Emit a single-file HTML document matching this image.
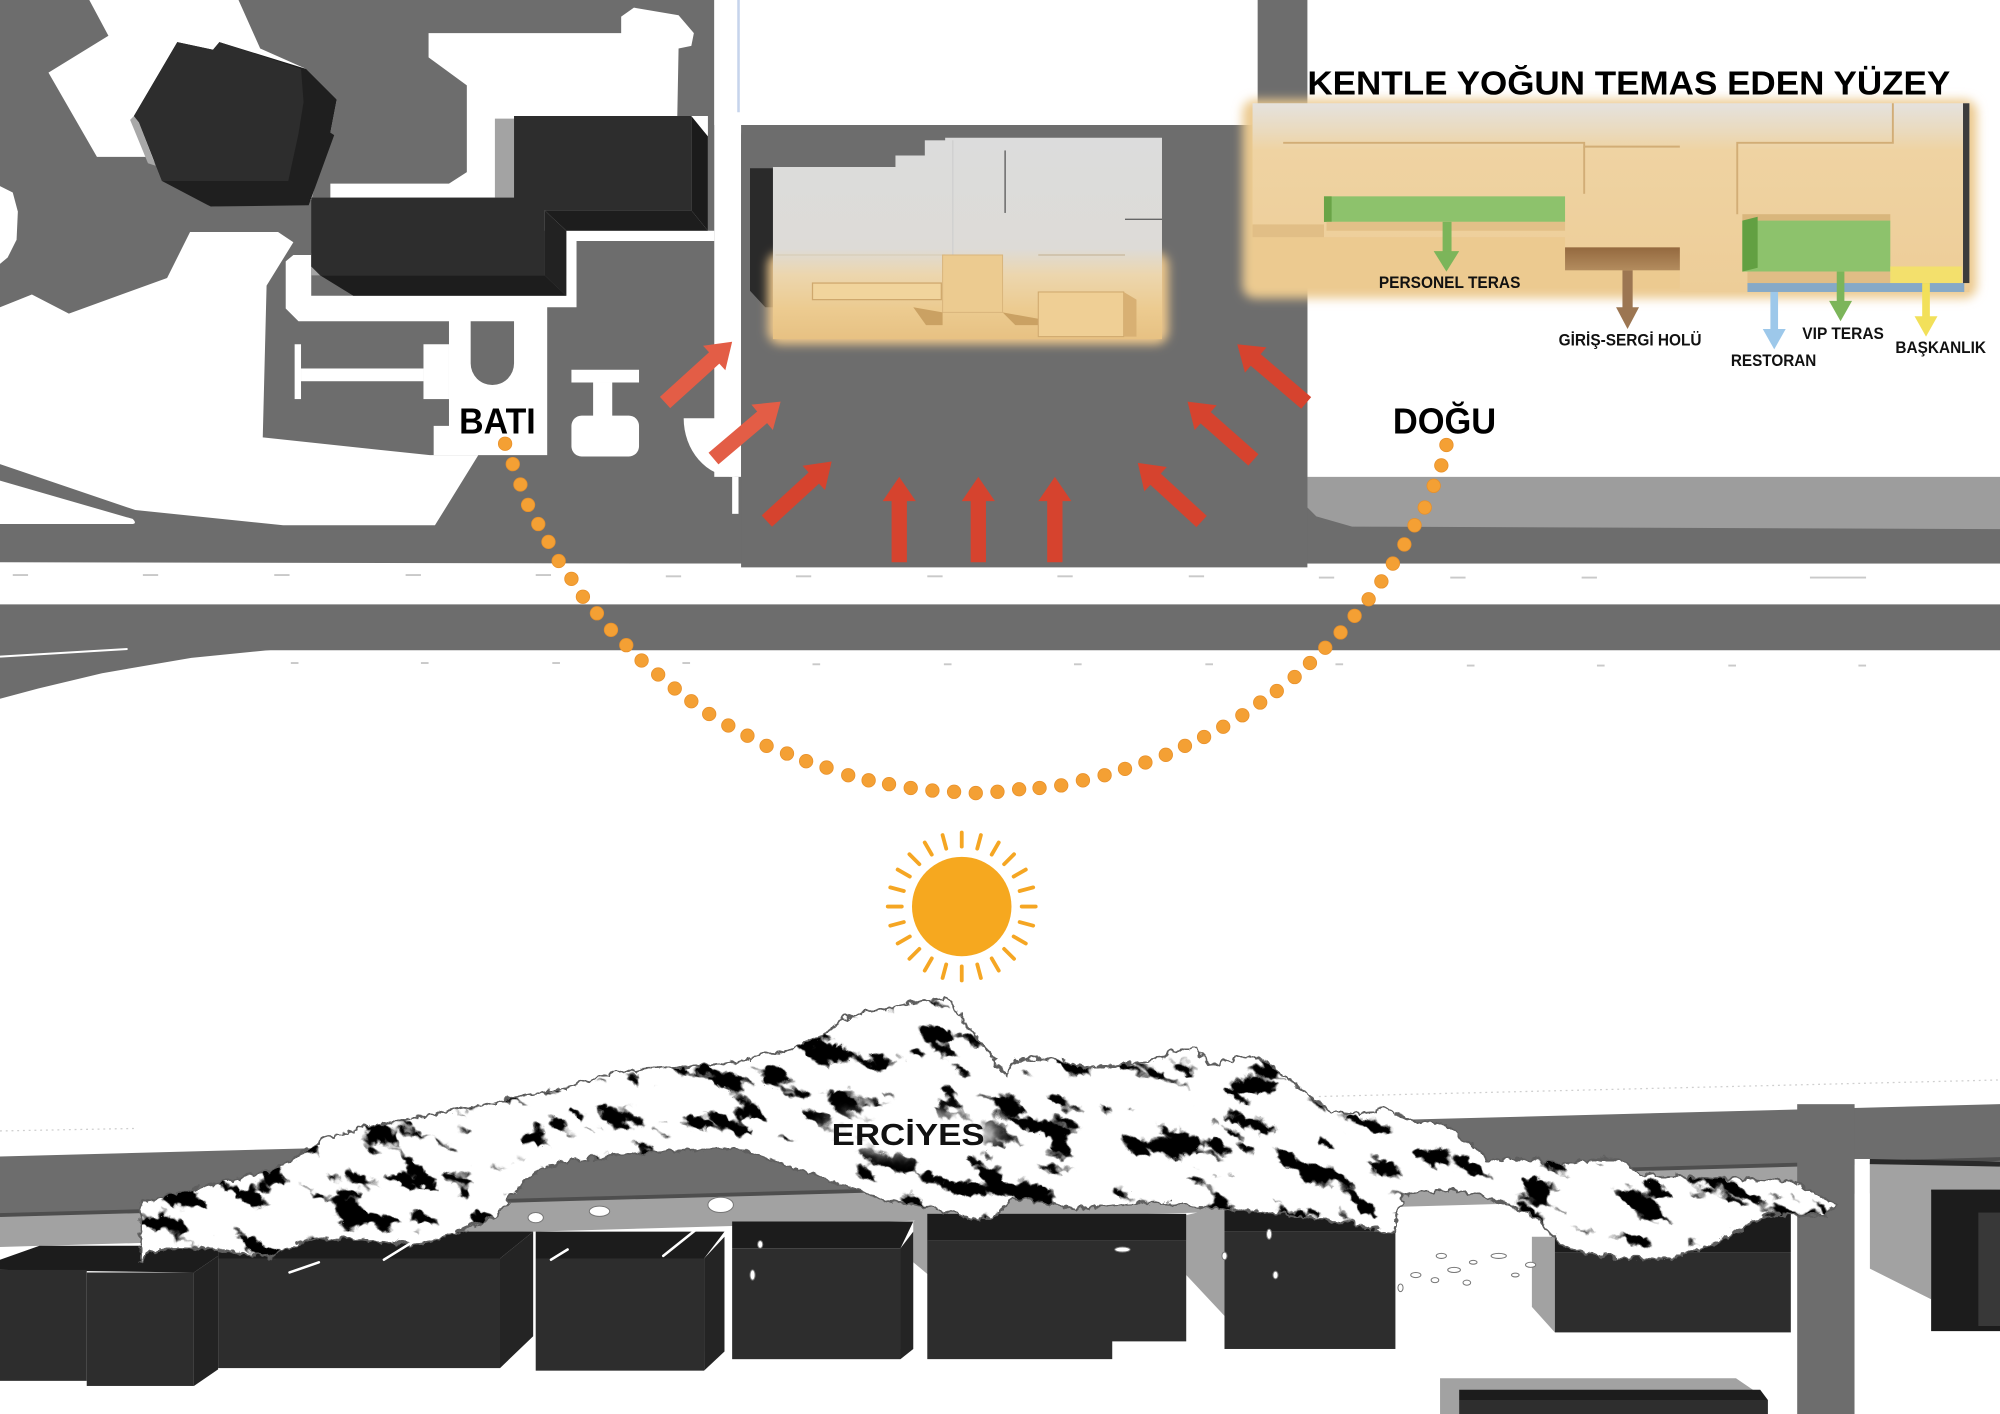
<!DOCTYPE html>
<html><head><meta charset="utf-8">
<style>html,body{margin:0;padding:0;background:#fff;width:2000px;height:1414px;overflow:hidden;}svg{display:block;}</style>
</head>
<body>
<svg xmlns="http://www.w3.org/2000/svg" width="2000" height="1414" viewBox="0 0 1568 1109" preserveAspectRatio="none" font-family="'Liberation Sans', 'DejaVu Sans', sans-serif">
<defs>
  <filter id="b4" x="-20%" y="-40%" width="140%" height="180%"><feGaussianBlur stdDeviation="4"/></filter>
  <filter id="b6" x="-30%" y="-80%" width="160%" height="260%"><feGaussianBlur stdDeviation="6"/></filter>
  <filter id="nz" x="0" y="0" width="1" height="1" color-interpolation-filters="sRGB">
    <feTurbulence type="fractalNoise" baseFrequency="0.025 0.055" numOctaves="3" seed="11"/>
    <feColorMatrix type="matrix" values="0 0 0 0 0  0 0 0 0 0  0 0 0 0 0  -16 0 0 0 6.75"/>
  </filter>
  <filter id="rough" x="-5%" y="-20%" width="110%" height="140%" color-interpolation-filters="sRGB">
    <feTurbulence type="turbulence" baseFrequency="0.09" numOctaves="2" seed="4" result="t"/>
    <feDisplacementMap in="SourceGraphic" in2="t" scale="7" xChannelSelector="R" yChannelSelector="G"/>
  </filter>
  <pattern id="np" patternUnits="userSpaceOnUse" x="0" y="0" width="2400" height="1400" patternTransform="rotate(25 770 900)">
    <rect x="0" y="0" width="2400" height="1400" filter="url(#nz)"/>
  </pattern>
  <linearGradient id="gBld" gradientUnits="userSpaceOnUse" x1="0" y1="108" x2="0" y2="266">
    <stop offset="0" stop-color="#dcdcdc"/><stop offset="0.55" stop-color="#dddbd7"/>
    <stop offset="0.68" stop-color="#ecd6ae"/><stop offset="0.85" stop-color="#eccb90"/>
    <stop offset="1" stop-color="#e7c183"/>
  </linearGradient>
  <linearGradient id="gK" gradientUnits="userSpaceOnUse" x1="0" y1="81" x2="0" y2="229">
    <stop offset="0" stop-color="#e5e2de"/><stop offset="0.15" stop-color="#eadabd"/>
    <stop offset="0.25" stop-color="#efd3a2"/><stop offset="1" stop-color="#edcd98"/>
  </linearGradient>
  <linearGradient id="gBr" x1="0" y1="0" x2="0" y2="1">
    <stop offset="0" stop-color="#94693f"/><stop offset="1" stop-color="#b38c5e"/>
  </linearGradient>
  <clipPath id="mc"><path id="mpath" d="M108,988 L108,941 L140,933 L175,925 L215,915 L235,902 L255,891 L288,881 L320,875 L350,870 L400,860 L450,849 L480,839 L525,836 L575,831 L615,821 L640,812 L655,800 L675,792 L690,790 L705,786 L720,783 L740,781 L748,788 L754,800 L767,815 L774,826 L787,841 L796,830 L816,828 L835,831 L848,835 L868,834 L894,831 L913,826 L926,820 L936,820 L946,834 L965,830 L979,826 L991,831 L1008,844 L1024,857 L1040,870 L1057,872 L1084,868 L1109,878 L1129,878 L1150,895 L1164,909 L1184,907 L1224,911 L1254,907 L1269,907 L1284,920 L1334,922 L1404,925 L1439,943 L1429,951 L1384,951 L1364,962 L1334,977 L1309,985 L1259,985 L1224,977 L1205,955 L1180,942 L1140,932 L1100,935 L1090,966 L1060,958 L1009,951 L959,946 L899,941 L840,946 L792,938 L772,956 L728,946 L688,938 L576,898 L520,901 L444,909 L420,915 L400,935 L390,951 L350,967 L320,975 L280,970 L240,970 L210,985 L165,977 L125,977 Z"/></clipPath>
</defs>

<rect x="0" y="0" width="1568" height="1109" fill="#fff"/>

<!-- ===== TOP AREA ===== -->
<rect x="0" y="0" width="1568" height="442" fill="#6d6d6d"/>
<g fill="#fff">
  <polygon points="70,0 187,0 204,38 240,54 264,78 259,104 244,157 165,162 127,139 119,123 76,123 38,57 85,28"/>
  <polygon points="0,146 10,151 14,166 13,188 6,202 0,207"/>
  <polygon points="0,241 25,231 54,246 131,218 149,182 218,182 230,190 209,224 206,343 337,357 375,357 341,412 222,412 106,400 0,364"/>
  <path d="M0,377 L104,407 Q108,411 103,411 L0,411 Z"/>
  <polygon points="259,144 352,144 366,135 366,67 336,45 336,26 487,26 487,13 497,6 532,12 544,26 542,36 532,38 531,91 555,91 555,181 403,181 403,155 259,155"/>
  <polygon points="224,205 230,200 244,200 244,232 444,232 444,181 560,181 560,189 452,189 452,241 429,241 429,357 340,357 340,334 352,334 352,252 234,252 224,242"/>
  <rect x="560" y="0" width="21" height="374"/>
  <rect x="574" y="374" width="5" height="29"/>
  <path d="M576,328 L536,328 A40,46 0 0 0 576,374 Z"/>
  <path d="M560,0 H986 V92 A6,6 0 0 1 980,98 H560 Z"/>
  <rect x="1025" y="0" width="543" height="375"/>
</g>
<line x1="579" y1="0" x2="579" y2="88" stroke="#c6d4ec" stroke-width="2"/>
<polygon points="1025,374 1568,374 1568,415 1060,413 1032,405 1025,398" fill="#9d9d9d"/>
<path d="M369,252 V285 A17,17 0 0 0 403,285 V252 Z" fill="#6d6d6d"/>
<g fill="#fff">
  <rect x="231" y="270" width="5" height="43"/>
  <rect x="236" y="289" width="96" height="10"/>
  <rect x="332" y="270" width="20" height="43"/>
  <rect x="448" y="290" width="53" height="10"/>
  <rect x="465" y="300" width="15" height="28"/>
  <rect x="448" y="326" width="53" height="32" rx="8"/>
</g>
<!-- octagon building -->
<polygon points="105,91 109,96 122,130 116,128 102,94" fill="#a8a8a8"/>
<polygon points="139,33 167,39 172,33 240,54 264,78 259,104 262,106 242,161 165,162 127,142 109,96 105,91" fill="#1f1f1f"/>
<polygon points="139,33 167,39 172,33 236,54 238,80 234,105 226,142 127,142 109,96 105,91" fill="#2d2d2d"/>
<!-- long building -->
<polygon points="388,93 403,93 403,155 388,155" fill="#a3a3a3"/>
<polygon points="244,198 251,216 244,216" fill="#a3a3a3"/>
<polygon points="403,91 542,91 542,165 427,165 427,216 251,216 244,209 244,155 403,155" fill="#2d2d2d"/>
<polygon points="427,165 542,165 555,181 444,181" fill="#1d1d1d"/>
<polygon points="251,216 427,216 444,232 277,232" fill="#1d1d1d"/>
<polygon points="427,165 444,181 444,232 427,216" fill="#222"/>
<polygon points="542,91 555,107 555,181 542,165" fill="#1b1b1b"/>

<!-- road -->
<polygon points="0,441 1568,444 1568,474 0,474" fill="#fff"/>
<polygon points="0,474 1568,474 1568,510 0,510" fill="#6d6d6d"/>
<polygon points="0,509 220,509 150,516 80,528 30,540 0,548" fill="#6d6d6d"/>
<path d="M0,515 Q50,512 100,509" stroke="#fff" stroke-width="1.5" fill="none"/>
<g stroke="#c9c9c9" stroke-width="1.5">
  <line x1="10" y1="451" x2="22" y2="451"/><line x1="112" y1="451" x2="124" y2="451"/>
  <line x1="215" y1="451" x2="227" y2="451"/><line x1="318" y1="451" x2="330" y2="451"/>
  <line x1="420" y1="451" x2="432" y2="451"/><line x1="522" y1="452" x2="534" y2="452"/>
  <line x1="624" y1="452" x2="636" y2="452"/><line x1="727" y1="452" x2="739" y2="452"/>
  <line x1="829" y1="452" x2="841" y2="452"/><line x1="932" y1="452" x2="944" y2="452"/>
  <line x1="1034" y1="453" x2="1046" y2="453"/><line x1="1137" y1="453" x2="1149" y2="453"/>
  <line x1="1240" y1="453" x2="1252" y2="453"/><line x1="1419" y1="453" x2="1463" y2="453"/>
  <line x1="228" y1="520" x2="234" y2="520"/><line x1="330" y1="520" x2="336" y2="520"/>
  <line x1="433" y1="520" x2="439" y2="520"/><line x1="535" y1="520" x2="541" y2="520"/>
  <line x1="637" y1="521" x2="643" y2="521"/><line x1="740" y1="521" x2="746" y2="521"/>
  <line x1="842" y1="521" x2="848" y2="521"/><line x1="945" y1="521" x2="951" y2="521"/>
  <line x1="1047" y1="521" x2="1053" y2="521"/><line x1="1150" y1="522" x2="1156" y2="522"/>
  <line x1="1252" y1="522" x2="1258" y2="522"/><line x1="1355" y1="522" x2="1361" y2="522"/>
  <line x1="1457" y1="522" x2="1463" y2="522"/>
</g>

<!-- central plot -->
<path d="M581,106 A8,8 0 0 1 589,98 H1025 V445 H581 Z" fill="#6d6d6d"/>
<polygon points="588,132 606,132 606,232 612,241 600,241 588,228" fill="#2a2a2a"/>
<polygon points="606,174 619,180 619,191 606,191" fill="#4a4a4a"/>
<rect x="702" y="122" width="23" height="10" fill="#2a2a2a"/>
<rect x="725" y="110" width="16" height="13" fill="#2a2a2a"/>
<rect x="602" y="198" width="314" height="72" rx="10" fill="#f0c98c" filter="url(#b4)"/>
<polygon points="606,131 702,131 702,122 725,122 725,110 741,110 741,108 911,108 911,266 606,266" fill="url(#gBld)"/>
<line x1="747" y1="110" x2="747" y2="200" stroke="#cfcfcf" stroke-width="1"/>
<line x1="788" y1="118" x2="788" y2="167" stroke="#555" stroke-width="1"/>
<line x1="882" y1="172" x2="911" y2="172" stroke="#666" stroke-width="1"/>
<line x1="608" y1="200" x2="741" y2="200" stroke="#d8cdb8" stroke-width="1"/>
<line x1="814" y1="200" x2="882" y2="200" stroke="#c8b89c" stroke-width="1"/>
<rect x="637" y="222" width="101" height="13" fill="#f1d49c" stroke="#cfa86d" stroke-width="1"/>
<rect x="739" y="200" width="47" height="45" fill="#eccb90" stroke="#d9b57c" stroke-width="0.8"/>
<polygon points="716,241 739,245 739,255 726,255" fill="#caa163"/>
<polygon points="786,245 814,250 814,255 796,255" fill="#caa163"/>
<rect x="814" y="229" width="67" height="35" fill="#efcf95" stroke="#cfa86d" stroke-width="0.8"/>
<polygon points="881,229 891,235 891,264 881,264" fill="#d8b073"/>

<!-- KENTLE block -->
<rect x="974" y="78" width="576" height="156" rx="10" fill="#ecca90" filter="url(#b4)"/>
<polygon points="982,81 1544,81 1544,229 1317,229 1317,194 1227,194 1227,186 982,186" fill="url(#gK)"/>
<rect x="982" y="176" width="56" height="10" fill="#e1be86"/>
<g stroke="#d2ad76" stroke-width="1.5" fill="none">
  <polyline points="1006,112 1242,112 1242,115 1317,115"/>
  <line x1="1242" y1="115" x2="1242" y2="152"/>
  <polyline points="1484,81 1484,112 1362,112 1362,168"/>
</g>
<rect x="1038" y="154" width="189" height="20" fill="#8dc26c"/>
<rect x="1038" y="154" width="6" height="20" fill="#6aa447"/>
<rect x="1040" y="174" width="187" height="7" fill="#e3c088"/>
<rect x="1227" y="194" width="90" height="18" fill="url(#gBr)"/>
<rect x="1366" y="168" width="116" height="5" fill="#d9b67c"/>
<rect x="1366" y="173" width="116" height="40" fill="#8dc26c"/>
<polygon points="1366,173 1378,170 1378,210 1366,213" fill="#62a042"/>
<rect x="1370" y="213" width="112" height="9" fill="#e0bd86"/>
<rect x="1482" y="209" width="56" height="13" fill="#f3e06c"/>
<rect x="1370" y="222" width="170" height="7" fill="#86a9c7"/>
<rect x="1539" y="81" width="5" height="141" fill="#3c3c3c"/>

<!-- small arrows -->
<g fill="#7cb55a"><rect x="1131" y="174" width="7" height="25"/><polygon points="1124,197 1144,197 1134,213"/></g>
<g fill="#9c7652"><rect x="1272" y="212" width="8" height="31"/><polygon points="1267,241 1285,241 1276,258"/></g>
<g fill="#9dc8ea"><rect x="1388" y="229" width="6" height="31"/><polygon points="1382,258 1400,258 1391,274"/></g>
<g fill="#7cb55a"><rect x="1440" y="213" width="6" height="25"/><polygon points="1434,236 1452,236 1443,252"/></g>
<g fill="#f2e05a"><rect x="1507" y="222" width="6" height="28"/><polygon points="1501,248 1519,248 1510,264"/></g>

<g font-weight="bold" fill="#111" font-size="13">
  <text x="1081" y="226" textLength="111" lengthAdjust="spacingAndGlyphs">PERSONEL TERAS</text>
  <text x="1222" y="271" textLength="112" lengthAdjust="spacingAndGlyphs">GİRİŞ-SERGİ HOLÜ</text>
  <text x="1357" y="287" textLength="67" lengthAdjust="spacingAndGlyphs">RESTORAN</text>
  <text x="1413" y="266" textLength="64" lengthAdjust="spacingAndGlyphs">VIP TERAS</text>
  <text x="1486" y="277" textLength="71" lengthAdjust="spacingAndGlyphs">BAŞKANLIK</text>
</g>
<text x="1025" y="74" font-size="26" font-weight="bold" fill="#000" textLength="504" lengthAdjust="spacingAndGlyphs">KENTLE YOĞUN TEMAS EDEN YÜZEY</text>

<!-- red arrows -->
<g fill="#e35d46">
  <polygon transform="translate(574,268) rotate(47.8)" points="0,0 13,19 6,19 6,71 -6,71 -6,19 -13,19"/>
  <polygon transform="translate(612,315) rotate(49.7)" points="0,0 13,19 6,19 6,69 -6,69 -6,19 -13,19"/>
</g>
<g fill="#d6432e">
  <polygon transform="translate(652,362) rotate(47.4)" points="0,0 13,19 6,19 6,69 -6,69 -6,19 -13,19"/>
  <polygon transform="translate(705,374)" points="0,0 13,19 6,19 6,67 -6,67 -6,19 -13,19"/>
  <polygon transform="translate(767,374)" points="0,0 13,19 6,19 6,67 -6,67 -6,19 -13,19"/>
  <polygon transform="translate(827,374)" points="0,0 13,19 6,19 6,67 -6,67 -6,19 -13,19"/>
  <polygon transform="translate(892,363) rotate(-47.4)" points="0,0 13,19 6,19 6,68 -6,68 -6,19 -13,19"/>
  <polygon transform="translate(931,315) rotate(-48.5)" points="0,0 13,19 6,19 6,69 -6,69 -6,19 -13,19"/>
  <polygon transform="translate(970,270) rotate(-49.6)" points="0,0 13,19 6,19 6,71 -6,71 -6,19 -13,19"/>
</g>

<text x="360" y="340" font-size="28" font-weight="bold" fill="#000" textLength="60" lengthAdjust="spacingAndGlyphs">BATI</text>
<text x="1092" y="340" font-size="28" font-weight="bold" fill="#000" textLength="81" lengthAdjust="spacingAndGlyphs">DOĞU</text>

<!-- orange dots -->
<g fill="#f4a034" stroke="#e8902a" stroke-width="0.6">
<circle cx="396" cy="348" r="5.3"/><circle cx="402" cy="364" r="5.3"/><circle cx="408" cy="380" r="5.3"/><circle cx="414" cy="396" r="5.3"/><circle cx="422" cy="411" r="5.3"/><circle cx="430" cy="425" r="5.3"/><circle cx="438" cy="440" r="5.3"/><circle cx="448" cy="454" r="5.3"/><circle cx="457" cy="468" r="5.3"/><circle cx="468" cy="481" r="5.3"/><circle cx="479" cy="494" r="5.3"/><circle cx="491" cy="506" r="5.3"/><circle cx="503" cy="518" r="5.3"/><circle cx="516" cy="529" r="5.3"/><circle cx="529" cy="540" r="5.3"/><circle cx="542" cy="550" r="5.3"/><circle cx="556" cy="560" r="5.3"/><circle cx="571" cy="569" r="5.3"/><circle cx="586" cy="577" r="5.3"/><circle cx="601" cy="585" r="5.3"/><circle cx="617" cy="591" r="5.3"/><circle cx="632" cy="597" r="5.3"/><circle cx="648" cy="602" r="5.3"/><circle cx="665" cy="608" r="5.3"/><circle cx="681" cy="612" r="5.3"/><circle cx="697" cy="615" r="5.3"/><circle cx="714" cy="618" r="5.3"/><circle cx="731" cy="620" r="5.3"/><circle cx="748" cy="621" r="5.3"/><circle cx="765" cy="622" r="5.3"/><circle cx="782" cy="621" r="5.3"/><circle cx="799" cy="619" r="5.3"/><circle cx="815" cy="618" r="5.3"/><circle cx="832" cy="616" r="5.3"/><circle cx="849" cy="612" r="5.3"/><circle cx="866" cy="608" r="5.3"/><circle cx="882" cy="603" r="5.3"/><circle cx="898" cy="598" r="5.3"/><circle cx="914" cy="592" r="5.3"/><circle cx="929" cy="585" r="5.3"/><circle cx="944" cy="578" r="5.3"/><circle cx="959" cy="570" r="5.3"/><circle cx="974" cy="561" r="5.3"/><circle cx="988" cy="551" r="5.3"/><circle cx="1001" cy="542" r="5.3"/><circle cx="1015" cy="531" r="5.3"/><circle cx="1027" cy="520" r="5.3"/><circle cx="1039" cy="508" r="5.3"/><circle cx="1051" cy="496" r="5.3"/><circle cx="1062" cy="483" r="5.3"/><circle cx="1073" cy="470" r="5.3"/><circle cx="1083" cy="456" r="5.3"/><circle cx="1092" cy="442" r="5.3"/><circle cx="1101" cy="427" r="5.3"/><circle cx="1109" cy="412" r="5.3"/><circle cx="1117" cy="398" r="5.3"/><circle cx="1124" cy="381" r="5.3"/><circle cx="1130" cy="365" r="5.3"/><circle cx="1134" cy="349" r="5.3"/>
</g>

<!-- sun -->
<circle cx="754" cy="711" r="39" fill="#f6a81f"/>
<g stroke="#f5a623" stroke-width="3" stroke-linecap="round">
  <line x1="754" y1="664" x2="754" y2="653"/>
  <line x1="754" y1="664" x2="754" y2="653" transform="rotate(15 754 711)"/>
  <line x1="754" y1="664" x2="754" y2="653" transform="rotate(30 754 711)"/>
  <line x1="754" y1="664" x2="754" y2="653" transform="rotate(45 754 711)"/>
  <line x1="754" y1="664" x2="754" y2="653" transform="rotate(60 754 711)"/>
  <line x1="754" y1="664" x2="754" y2="653" transform="rotate(75 754 711)"/>
  <line x1="754" y1="664" x2="754" y2="653" transform="rotate(90 754 711)"/>
  <line x1="754" y1="664" x2="754" y2="653" transform="rotate(105 754 711)"/>
  <line x1="754" y1="664" x2="754" y2="653" transform="rotate(120 754 711)"/>
  <line x1="754" y1="664" x2="754" y2="653" transform="rotate(135 754 711)"/>
  <line x1="754" y1="664" x2="754" y2="653" transform="rotate(150 754 711)"/>
  <line x1="754" y1="664" x2="754" y2="653" transform="rotate(165 754 711)"/>
  <line x1="754" y1="664" x2="754" y2="653" transform="rotate(180 754 711)"/>
  <line x1="754" y1="664" x2="754" y2="653" transform="rotate(195 754 711)"/>
  <line x1="754" y1="664" x2="754" y2="653" transform="rotate(210 754 711)"/>
  <line x1="754" y1="664" x2="754" y2="653" transform="rotate(225 754 711)"/>
  <line x1="754" y1="664" x2="754" y2="653" transform="rotate(240 754 711)"/>
  <line x1="754" y1="664" x2="754" y2="653" transform="rotate(255 754 711)"/>
  <line x1="754" y1="664" x2="754" y2="653" transform="rotate(270 754 711)"/>
  <line x1="754" y1="664" x2="754" y2="653" transform="rotate(285 754 711)"/>
  <line x1="754" y1="664" x2="754" y2="653" transform="rotate(300 754 711)"/>
  <line x1="754" y1="664" x2="754" y2="653" transform="rotate(315 754 711)"/>
  <line x1="754" y1="664" x2="754" y2="653" transform="rotate(330 754 711)"/>
  <line x1="754" y1="664" x2="754" y2="653" transform="rotate(345 754 711)"/>
</g>

<!-- ===== BOTTOM AREA ===== -->
<g stroke="#cfcfcf" stroke-width="1" stroke-dasharray="1.5,3">
  <line x1="0" y1="887" x2="108" y2="885"/>
  <line x1="1034" y1="860" x2="1568" y2="847"/>
</g>
<polygon points="0,907 1568,866 1568,909 0,953" fill="#6d6d6d"/>
<polygon points="0,953 1568,909 1568,933 0,978" fill="#a2a2a2"/>
<line x1="0" y1="953" x2="1568" y2="909" stroke="#4e4e4e" stroke-width="3"/>
<rect x="1409" y="866" width="45" height="243" fill="#6d6d6d"/>
<rect x="1454" y="909" width="12" height="200" fill="#fff"/>
<polygon points="1466,912 1568,912 1568,933 1514,933 1514,1019 1466,995" fill="#a2a2a2"/>
<line x1="1466" y1="911" x2="1568" y2="913" stroke="#2a2a2a" stroke-width="4"/>
<rect x="1514" y="933" width="54" height="111" fill="#1c1c1c"/>
<rect x="1551" y="951" width="17" height="89" fill="#383838"/>
<g fill="#a2a2a2">
  <polygon points="930,953 960,946 960,1032 930,1000"/>
  <polygon points="1201,970 1219,970 1219,1045 1201,1025"/>
  <polygon points="716,958 728,952 728,1000 716,990"/>
  <polygon points="1129,1081 1361,1081 1386,1098 1386,1109 1129,1109"/>
</g>
<g>
  <polygon points="0,988 31,977 171,977 171,985 152,998 0,996" fill="#1c1c1c"/>
  <rect x="0" y="996" width="68" height="87" fill="#2d2d2d"/>
  <rect x="68" y="998" width="84" height="89" fill="#2d2d2d"/>
  <polygon points="152,998 171,985 171,1074 152,1087" fill="#232323"/>
  <polygon points="171,966 418,966 392,987 171,987" fill="#1c1c1c"/>
  <rect x="171" y="987" width="221" height="86" fill="#2d2d2d"/>
  <polygon points="392,987 418,966 418,1048 392,1073" fill="#242424"/>
  <polygon points="420,966 568,966 552,987 420,987" fill="#1c1c1c"/>
  <rect x="420" y="987" width="132" height="88" fill="#2d2d2d"/>
  <polygon points="552,987 568,970 568,1060 552,1075" fill="#242424"/>
  <polygon points="574,958 716,958 706,979 574,979" fill="#1c1c1c"/>
  <rect x="574" y="979" width="132" height="87" fill="#2d2d2d"/>
  <polygon points="706,979 716,966 716,1058 706,1066" fill="#242424"/>
  <rect x="727" y="952" width="203" height="21" fill="#1c1c1c"/>
  <polygon points="727,973 930,973 930,1052 872,1052 872,1066 727,1066" fill="#2d2d2d"/>
  <rect x="960" y="946" width="134" height="20" fill="#1c1c1c"/>
  <rect x="960" y="966" width="134" height="92" fill="#2d2d2d"/>
  <rect x="1219" y="946" width="185" height="36" fill="#1c1c1c"/>
  <rect x="1219" y="982" width="185" height="63" fill="#2d2d2d"/>
  <polygon points="1144,1090 1380,1090 1386,1098 1144,1098" fill="#1c1c1c"/>
  <rect x="1144" y="1098" width="242" height="11" fill="#2e2e2e"/>
</g>

<!-- mountain -->
<g filter="url(#rough)">
  <use href="#mpath" fill="#fff" stroke="#5e5e5e" stroke-width="1.6"/>
  <use href="#mpath" fill="url(#np)"/>
  <g clip-path="url(#mc)">
    <ellipse cx="712" cy="887" rx="72" ry="15" fill="#fff" opacity="0.9" filter="url(#b6)"/>
  </g>
  <use href="#mpath" fill="none" stroke="#5e5e5e" stroke-width="1.4"/>
</g>
<g fill="#fff" stroke="#777" stroke-width="0.8">
  <ellipse cx="1110" cy="1000" rx="4" ry="2"/><ellipse cx="1125" cy="1004" rx="3" ry="2"/>
  <ellipse cx="1140" cy="996" rx="5" ry="2"/><ellipse cx="1155" cy="990" rx="3" ry="1.5"/>
  <ellipse cx="1175" cy="985" rx="6" ry="2"/><ellipse cx="1200" cy="992" rx="4" ry="2"/>
  <ellipse cx="1098" cy="1010" rx="2" ry="3"/><ellipse cx="1150" cy="1006" rx="3" ry="2"/>
  <ellipse cx="1188" cy="1000" rx="3" ry="1.5"/><ellipse cx="1130" cy="985" rx="4" ry="2"/>
  <ellipse cx="995" cy="968" rx="2" ry="4"/><ellipse cx="1000" cy="1000" rx="2" ry="3"/>
  <ellipse cx="960" cy="985" rx="2" ry="3"/><ellipse cx="590" cy="1000" rx="2" ry="4"/>
  <ellipse cx="596" cy="976" rx="2" ry="3"/><ellipse cx="880" cy="980" rx="6" ry="2"/>
  <ellipse cx="470" cy="950" rx="8" ry="4"/><ellipse cx="565" cy="945" rx="10" ry="6"/>
  <ellipse cx="420" cy="955" rx="6" ry="4"/>
</g>
<g stroke="#fff" stroke-width="2" stroke-linecap="round">
  <line x1="301" y1="988" x2="330" y2="970"/><line x1="227" y1="998" x2="250" y2="990"/>
  <line x1="520" y1="985" x2="545" y2="965"/><line x1="432" y1="988" x2="445" y2="980"/>
</g>
<text x="652" y="898" font-size="24" font-weight="bold" fill="#111" textLength="120" lengthAdjust="spacingAndGlyphs">ERCİYES</text>
</svg>
</body></html>
